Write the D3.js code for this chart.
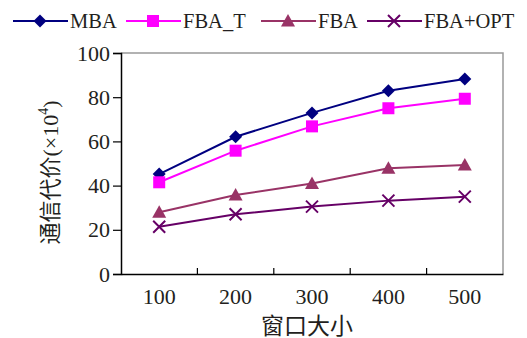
<!DOCTYPE html>
<html>
<head>
<meta charset="utf-8">
<script src="https://cdn.jsdelivr.net/npm/d3@7"></script>
<style>
  body { margin: 0; background: #fff; }
  text { font-family: "Liberation Serif", "Times New Roman", Times, "DejaVu Serif", "Noto Sans CJK SC", serif; fill: #231f20; }
</style>
</head>
<body>
<div id="chart"></div>
<script>
// window sizes on x, cost (x10^4) per method
const categories = ['100', '200', '300', '400', '500'];
const yTicks = [0, 20, 40, 60, 80, 100];
const seriesNames = ['MBA', 'FBA_T', 'FBA', 'FBA+OPT'];
const mbaValues = [45.2, 62.1, 72.9, 82.9, 88.2];
const fbaTValues = [41.5, 55.8, 66.8, 75.0, 79.3];
const fbaValues = [27.9, 35.7, 41.0, 47.8, 49.3];
const optValues = [21.4, 27.0, 30.5, 33.2, 35.0];

const series = [
  { name: seriesNames[0], values: mbaValues, color: '#000080', symbol: 'diamond' },
  { name: seriesNames[1], values: fbaTValues, color: '#ff00ff', symbol: 'square' },
  { name: seriesNames[2], values: fbaValues, color: '#993366', symbol: 'triangle' },
  { name: seriesNames[3], values: optValues, color: '#660066', symbol: 'cross' }
];

const serif = '"Liberation Serif", "Times New Roman", Times, "DejaVu Serif", serif';
const width = 527, height = 338;
const margin = { top: 53, right: 24, bottom: 64, left: 121 };
const innerW = width - margin.left - margin.right;
const innerH = height - margin.top - margin.bottom;

const svg = d3.select('#chart')
  .append('svg')
  .attr('width', width)
  .attr('height', height);

const g = svg.append('g')
  .attr('transform', `translate(${margin.left},${margin.top})`);

// scales
const x = d3.scaleBand().domain(categories).range([0, innerW]);
const y = d3.scaleLinear().domain([0, 100]).range([innerH, 0]);

// grey frame on top and right
g.append('path')
  .attr('d', `M0,0 H${innerW} V${innerH}`)
  .attr('fill', 'none')
  .attr('stroke', '#999')
  .attr('stroke-width', 1.5);

// y axis
const yAxis = g.append('g')
  .attr('font-family', null)
  .call(d3.axisLeft(y).tickValues(yTicks).tickSize(8).tickPadding(3));
yAxis.attr('font-family', serif);
yAxis.select('.domain').attr('stroke', '#000').attr('stroke-width', 1.5);
yAxis.selectAll('.tick line').attr('stroke', '#000').attr('stroke-width', 1.2);
yAxis.selectAll('.tick text')
  .style('font-size', '22px')
  .style('font-family', serif)
  .attr('fill', '#231f20');

// x axis: labels at band centres, ticks at band boundaries pointing inward
const xAxis = g.append('g')
  .attr('transform', `translate(0,${innerH})`)
  .call(d3.axisBottom(x).tickSize(0).tickPadding(14));
xAxis.attr('font-family', serif);
xAxis.select('.domain').attr('stroke', '#000').attr('stroke-width', 1.5);
xAxis.selectAll('.tick text')
  .style('font-size', '22px')
  .style('font-family', serif)
  .attr('fill', '#231f20');
xAxis.selectAll('.bound')
  .data(categories.slice(1))
  .enter()
  .append('line')
  .attr('x1', d => x(d))
  .attr('x2', d => x(d))
  .attr('y1', 0)
  .attr('y2', -6)
  .attr('stroke', '#000')
  .attr('stroke-width', 1.2);

// axis titles
svg.append('text')
  .attr('x', margin.left + innerW / 2 - 5)
  .attr('y', 334)
  .attr('text-anchor', 'middle')
  .style('font-size', '23px')
  .text('窗口大小');

const yTitle = svg.append('text')
  .attr('transform', `translate(58,${margin.top + innerH / 2 + 9}) rotate(-90)`)
  .attr('text-anchor', 'middle')
  .style('font-size', '22px');
yTitle.append('tspan').text('通信代价(×10');
yTitle.append('tspan').attr('dy', -10).style('font-size', '14px').text('4');
yTitle.append('tspan').attr('dy', 10).text(')');

// marker drawing
const drawMarker = (sel, s) => {
  if (s.symbol === 'diamond') {
    sel.append('path')
      .attr('d', 'M0,-6.5 L6.5,0 L0,6.5 L-6.5,0 Z')
      .attr('fill', s.color);
  } else if (s.symbol === 'square') {
    sel.append('rect')
      .attr('x', -6).attr('y', -6)
      .attr('width', 12).attr('height', 12)
      .attr('fill', s.color);
  } else if (s.symbol === 'triangle') {
    sel.append('path')
      .attr('d', 'M0,-7 L7,5.5 L-7,5.5 Z')
      .attr('fill', s.color);
  } else {
    sel.append('path')
      .attr('d', 'M-6,-6 L6,6 M-6,6 L6,-6')
      .attr('stroke', s.color)
      .attr('stroke-width', 2)
      .attr('fill', 'none');
  }
};

// lines + markers
const line = d3.line()
  .x((d, i) => x(categories[i]) + x.bandwidth() / 2)
  .y(d => y(d));

series.forEach(s => {
  g.append('path')
    .datum(s.values)
    .attr('d', line)
    .attr('fill', 'none')
    .attr('stroke', s.color)
    .attr('stroke-width', 2);
  s.values.forEach((v, i) => {
    const m = g.append('g')
      .attr('transform', `translate(${x(categories[i]) + x.bandwidth() / 2},${y(v)})`);
    drawMarker(m, s);
  });
});

// legend
const legendX = [13, 126, 261, 367];
const legend = svg.append('g').attr('transform', 'translate(0,21)');
series.forEach((s, i) => {
  const item = legend.append('g').attr('transform', `translate(${legendX[i]},0)`);
  item.append('line')
    .attr('x1', 0).attr('x2', 55)
    .attr('stroke', s.color)
    .attr('stroke-width', 2);
  drawMarker(item.append('g').attr('transform', 'translate(27,0)'), s);
  item.append('text')
    .attr('x', 57)
    .attr('y', 7)
    .style('font-size', '20.5px')
    .style('font-family', serif)
    .text(s.name);
});
</script>
</body>
</html>
